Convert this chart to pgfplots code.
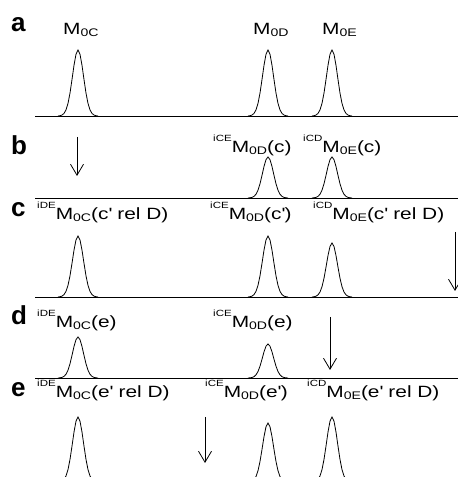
\documentclass[border=0pt]{standalone}
\usepackage{pgfplots}
\pgfplotsset{compat=1.18}
\usepackage{pgfplotstable}
\usetikzlibrary{arrows.meta}
\usepackage{fontspec}
\setmainfont{Liberation Sans}
\newfontfamily\lab[FakeStretch=1.28]{Liberation Sans}
\newfontfamily\pl{Liberation Sans}
\newcommand\sups[1]{\raisebox{11pt}{\fontsize{9}{9}\selectfont #1}}
\newcommand\subs[1]{\raisebox{-2pt}{\fontsize{11}{11}\selectfont #1}}
\newcommand\lbl[1]{\lab\fontsize{16.3}{17}\selectfont #1}
\newcommand\q{\textquotesingle}
\pgfplotstableread{
d g
-20 0
-18 0.0047
-16 0.0145
-14 0.0392
-12 0.0926
-10 0.191
-8 0.347
-6 0.552
-4 0.768
-2 0.936
0 1
2 0.936
4 0.768
6 0.552
8 0.347
10 0.191
12 0.0926
14 0.0392
16 0.0145
18 0.0047
20 0
}\shape
\newcommand\peak[3]{\addplot[pk] table[x expr=\thisrow{d}+#1, y expr=#2+#3*\thisrow{g}]{\shape};}
\begin{document}
\begin{tikzpicture}
\useasboundingbox (0,0) rectangle (458pt,477pt);
\begin{axis}[hide axis, x=1pt, y=1pt, xmin=0, xmax=458, ymin=0, ymax=477,
  anchor=south west, at={(0,0)}, clip=true,
  pk/.style={black, line width=0.8pt, mark=none},
  ar/.style={black, line width=0.8pt, mark=none, -{Straight Barb[length=11pt,width=13pt]}}]
% panel a
\addplot[pk] coordinates {(35,361) (458,361)};
\peak{78}{361}{66}
\peak{268}{361}{66}
\peak{332}{361}{66}
% panel b
\addplot[pk] coordinates {(35,279) (458,279)};
\peak{268}{279}{41}
\peak{332}{279}{41}
\addplot[ar] coordinates {(77,340) (77,301)};
% panel c
\addplot[pk] coordinates {(35,180) (458,180)};
\peak{78}{180}{61}
\peak{268}{180}{61}
\peak{332}{180}{54}
\addplot[ar] coordinates {(455,245) (455,186)};
% panel d
\addplot[pk] coordinates {(35,99) (458,99)};
\peak{78}{99}{41}
\peak{268}{99}{34}
\addplot[ar] coordinates {(330,160) (330,107)};
% panel e
\addplot[pk] coordinates {(35,-5) (458,-5)};
\peak{78}{-5}{65}
\peak{268}{-5}{59}
\peak{332}{-5}{65}
\addplot[ar] coordinates {(205,60) (205,14)};
% labels
\node[anchor=base west, inner sep=0] at (axis cs:11,445) {\pl\bfseries\fontsize{26}{27}\selectfont a};
\node[anchor=base west, inner sep=0] at (axis cs:11,322) {\pl\bfseries\fontsize{26}{27}\selectfont b};
\node[anchor=base west, inner sep=0] at (axis cs:11,260) {\pl\bfseries\fontsize{26}{27}\selectfont c};
\node[anchor=base west, inner sep=0] at (axis cs:11,152) {\pl\bfseries\fontsize{26}{27}\selectfont d};
\node[anchor=base west, inner sep=0] at (axis cs:11,80) {\pl\bfseries\fontsize{26}{27}\selectfont e};
\node[anchor=base west, inner sep=0] at (axis cs:63,442) {\lbl{M\subs{0C}}};
\node[anchor=base west, inner sep=0] at (axis cs:253,442) {\lbl{M\subs{0D}}};
\node[anchor=base west, inner sep=0] at (axis cs:322,442) {\lbl{M\subs{0E}}};
\node[anchor=base west, inner sep=0] at (axis cs:213,324) {\lbl{\sups{iCE}M\subs{0D}(c)}};
\node[anchor=base west, inner sep=0] at (axis cs:303,324) {\lbl{\sups{iCD}M\subs{0E}(c)}};
\node[anchor=base west, inner sep=0] at (axis cs:37,257) {\lbl{\sups{iDE}M\subs{0C}(c\q{} rel D)}};
\node[anchor=base west, inner sep=0] at (axis cs:210,257) {\lbl{\sups{iCE}M\subs{0D}(c\q)}};
\node[anchor=base west, inner sep=0] at (axis cs:313,257) {\lbl{\sups{iCD}M\subs{0E}(c\q{} rel D)}};
\node[anchor=base west, inner sep=0] at (axis cs:37,149) {\lbl{\sups{iDE}M\subs{0C}(e)}};
\node[anchor=base west, inner sep=0] at (axis cs:213,149) {\lbl{\sups{iCE}M\subs{0D}(e)}};
\node[anchor=base west, inner sep=0] at (axis cs:37,79) {\lbl{\sups{iDE}M\subs{0C}(e\q{} rel D)}};
\node[anchor=base west, inner sep=0] at (axis cs:205,79) {\lbl{\sups{iCE}M\subs{0D}(e\q)}};
\node[anchor=base west, inner sep=0] at (axis cs:307,79) {\lbl{\sups{iCD}M\subs{0E}(e\q{} rel D)}};
\end{axis}
\end{tikzpicture}
\end{document}
